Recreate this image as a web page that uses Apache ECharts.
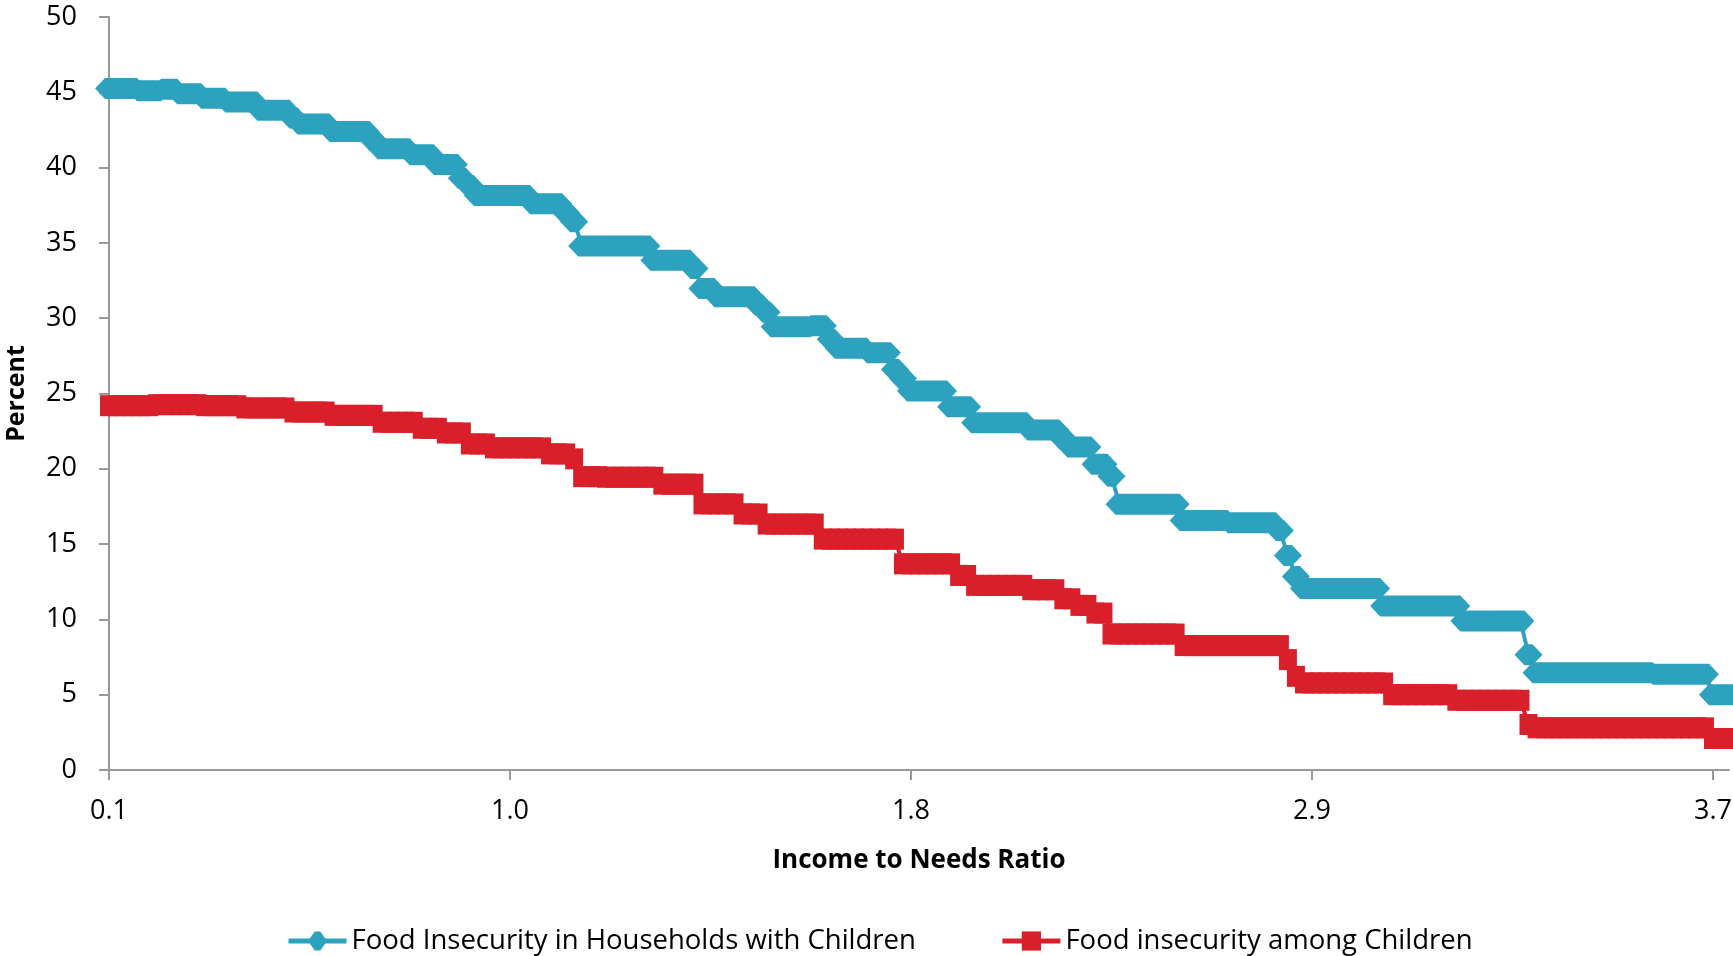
<!DOCTYPE html>
<html>
<head>
<meta charset="utf-8">
<script src="https://cdn.jsdelivr.net/npm/echarts@6/dist/echarts.min.js"></script>
<style>
html,body{margin:0;padding:0;background:#fff;}
#chart{width:1733px;height:956px;}
</style>
</head>
<body>
<div id="chart"></div>
<script>
// Tick labels of the income-to-needs axis (one every 50 points)
const tickLabels = ['0.1', '1.0', '1.8', '2.9', '3.7'];
const pointsPerTick = 50;

// Food Insecurity in Households with Children (percent)
const householdsWithChildren = [
  45.25,45.25,45.25,45.25,            // 0-3
  45.1,45.1,45.1,                     // 4-6
  45.2,45.2,                          // 7-8
  44.9,44.9,44.9,                     // 9-11
  44.6,44.6,44.6,                     // 12-14
  44.35,44.35,44.35,44.35,            // 15-18
  43.8,43.8,43.8,43.8,                // 19-22
  43.3,                               // 23
  42.9,42.9,42.9,42.9,                // 24-27
  42.4,42.4,42.4,42.4,42.4,           // 28-32
  41.8,                               // 33
  41.25,41.25,41.25,41.25,            // 34-37
  40.85,40.85,40.85,                  // 38-40
  40.2,40.2,40.2,                     // 41-43
  39.3,38.8,                          // 44-45
  38.15,38.15,38.15,38.15,38.15,38.15,38.15, // 46-52
  37.6,37.6,37.6,37.6,                // 53-56
  37.0,36.4,                          // 57-58
  34.8,34.8,34.8,34.8,34.8,34.8,34.8,34.8,34.8, // 59-67
  33.85,33.85,33.85,33.85,33.85,      // 68-72
  33.3,                               // 73
  31.97,31.97,                        // 74-75
  31.42,31.42,31.42,31.42,31.42,      // 76-80
  30.9,30.4,                          // 81-82
  29.43,29.43,29.43,29.43,29.43,      // 83-87
  29.5,29.5,                          // 88-89
  28.6,                               // 90
  28.0,28.0,28.0,28.0,                // 91-94
  27.7,27.7,27.7,                     // 95-97
  26.6,26.0,                          // 98-99
  25.17,25.17,25.17,25.17,25.17,      // 100-104
  24.12,24.12,24.12,                  // 105-107
  23.06,23.06,23.06,23.06,23.06,23.06,23.06, // 108-114
  22.58,22.58,22.58,22.58,            // 115-118
  22.0,                               // 119
  21.45,21.45,21.45,                  // 120-122
  20.3,20.3,                          // 123-124
  19.5,                               // 125
  17.65,17.65,17.65,17.65,17.65,17.65,17.65,17.65, // 126-133
  16.57,16.57,16.57,16.57,16.57,16.57, // 134-139
  16.41,16.41,16.41,16.41,16.41,16.41, // 140-145
  15.9,14.25,12.85,                   // 146-148
  12.06,12.06,12.06,12.06,12.06,12.06,12.06,12.06,12.06,12.06, // 149-158
  10.89,10.89,10.89,10.89,10.89,10.89,10.89,10.89,10.89,10.89, // 159-168
  9.9,9.9,9.9,9.9,9.9,9.9,9.9,9.9,    // 169-176
  7.66,                               // 177
  6.45,6.45,6.45,6.45,6.45,6.45,6.45,6.45,6.45,6.45,6.45,6.45,6.45,6.45,6.45, // 178-192
  6.35,6.35,6.35,6.35,6.35,6.35,6.35, // 193-199
  5.0,5.0,5.0                         // 200-202
];

// Food insecurity among Children (percent)
const amongChildren = [
  24.19,24.19,24.19,24.19,24.19,24.19, // 0-5
  24.26,24.26,24.26,24.26,24.26,24.26, // 6-11
  24.19,24.19,24.19,24.19,24.19,      // 12-16
  24.04,24.04,24.04,24.04,24.04,24.04, // 17-22
  23.77,23.77,23.77,23.77,23.77,      // 23-27
  23.55,23.55,23.55,23.55,23.55,23.55, // 28-33
  23.09,23.09,23.09,23.09,23.09,      // 34-38
  22.69,22.69,22.69,                  // 39-41
  22.38,22.38,22.38,                  // 42-44
  21.65,21.65,21.65,                  // 45-47
  21.39,21.39,21.39,21.39,21.39,21.39,21.39, // 48-54
  20.99,20.99,20.99,                  // 55-57
  20.66,                              // 58
  19.48,19.48,19.48,                  // 59-61
  19.44,19.44,19.44,19.44,19.44,19.44,19.44, // 62-68
  18.98,18.98,18.98,18.98,18.98,      // 69-73
  17.67,17.67,17.67,17.67,17.67,      // 74-78
  17.0,17.0,17.0,                     // 79-81
  16.33,16.33,16.33,16.33,16.33,16.33,16.33, // 82-88
  15.33,15.33,15.33,15.33,15.33,15.33,15.33,15.33,15.33,15.33, // 89-98
  13.69,13.69,13.69,13.69,13.69,13.69,13.69, // 99-105
  12.92,12.92,                        // 106-107
  12.26,12.26,12.26,12.26,12.26,12.26,12.26, // 108-114
  11.97,11.97,11.97,11.97,            // 115-118
  11.37,11.37,                        // 119-120
  10.93,10.93,                        // 121-122
  10.42,10.42,                        // 123-124
  9.03,9.03,9.03,9.03,9.03,9.03,9.03,9.03,9.03, // 125-133
  8.26,8.26,8.26,8.26,8.26,8.26,8.26,8.26,8.26,8.26,8.26,8.26,8.26, // 134-146
  7.33,6.22,                          // 147-148
  5.78,5.78,5.78,5.78,5.78,5.78,5.78,5.78,5.78,5.78,5.78, // 149-159
  5.0,5.0,5.0,5.0,5.0,5.0,5.0,5.0,    // 160-167
  4.63,4.63,4.63,4.63,4.63,4.63,4.63,4.63,4.63, // 168-176
  3.02,                               // 177
  2.8,2.8,2.8,2.8,2.8,2.8,2.8,2.8,2.8,2.8,2.8,2.8,2.8,2.8,2.8,2.8,2.8,2.8,2.8,2.8,2.8,2.8, // 178-199
  2.09,2.09,2.09                      // 200-202
];

const seriesNames = ['Food Insecurity in Households with Children', 'Food insecurity among Children'];
const categories = householdsWithChildren.map((_, i) => String(i));

const FONT = '"Open Sans", "Noto Sans", sans-serif';
const BLUE = '#2da2bf';
const RED = '#d91f2a';
const hexDiamond = 'path://M0,11 L10,0 L18,0 L28,11 L18,22 L10,22 Z';

const chart = echarts.init(document.getElementById('chart'), null, {renderer: 'canvas'});
chart.setOption({
  animation: false,
  backgroundColor: '#ffffff',
  grid: {left: 109, right: 4, top: 17, bottom: 186, containLabel: false, outerBoundsMode: 'none'},
  legend: {
    left: 281, top: 921,
    itemWidth: 58, itemHeight: 24, itemGap: 84,
    lineStyle: {width: 5},
    textStyle: {fontFamily: FONT, fontSize: 27.5, color: '#000', lineHeight: 30},
    data: seriesNames
  },
  xAxis: {
    type: 'category',
    data: categories,
    boundaryGap: false,
    name: 'Income to Needs Ratio',
    nameLocation: 'middle',
    nameGap: 78,
    nameTextStyle: {fontFamily: FONT, fontSize: 26, fontWeight: 'bold', color: '#000'},
    axisLine: {show: true, lineStyle: {color: '#999', width: 2}},
    axisTick: {show: true, interval: pointsPerTick - 1, length: 10, lineStyle: {color: '#999', width: 2}},
    axisLabel: {
      interval: pointsPerTick - 1,
      margin: 28,
      fontFamily: FONT, fontSize: 27, color: '#000',
      formatter: (v, idx) => (idx % pointsPerTick === 0 ? (tickLabels[idx / pointsPerTick] || '') : '')
    },
    splitLine: {show: false}
  },
  yAxis: {
    type: 'value',
    min: 0, max: 50, interval: 5,
    name: 'Percent',
    nameLocation: 'middle',
    nameGap: 80,
    nameTextStyle: {fontFamily: FONT, fontSize: 25, fontWeight: 'bold', color: '#000'},
    axisLine: {show: true, lineStyle: {color: '#999', width: 2}},
    axisTick: {show: true, length: 10, lineStyle: {color: '#999', width: 2}},
    axisLabel: {margin: 32, fontFamily: FONT, fontSize: 27, color: '#000'},
    splitLine: {show: false}
  },
  series: [
    {
      name: seriesNames[0],
      type: 'line',
      data: householdsWithChildren,
      showAllSymbol: true,
      symbol: hexDiamond,
      symbolSize: [28, 21],
      itemStyle: {color: BLUE},
      lineStyle: {color: BLUE, width: 4},
      emphasis: {disabled: true}
    },
    {
      name: seriesNames[1],
      type: 'line',
      data: amongChildren,
      showAllSymbol: true,
      symbol: 'rect',
      symbolSize: [18, 21],
      itemStyle: {color: RED},
      lineStyle: {color: RED, width: 4},
      emphasis: {disabled: true}
    }
  ]
});
</script>
</body>
</html>
